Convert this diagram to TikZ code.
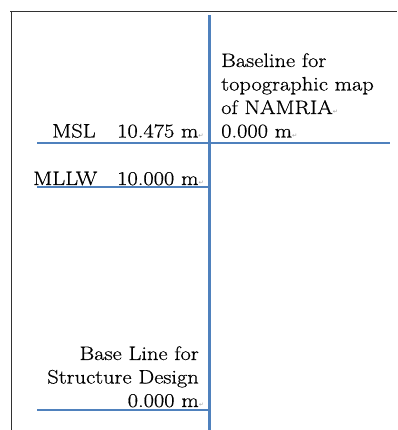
\documentclass[tikz,border=0pt]{standalone}
\usepackage{fontspec}
\newfontfamily\symfont{DejaVu Sans}
\newfontfamily\lblfont{Latin Modern Roman}[FakeBold=0.6]
\definecolor{wordblue}{RGB}{79,129,189}
\definecolor{framegray}{RGB}{50,50,50}
\definecolor{markgray}{RGB}{150,150,150}
\newcommand{\pmark}{{\symfont\fontsize{5.5}{6}\selectfont\textcolor{markgray}{↵}}}
\tikzset{
  lbl/.style={font=\lblfont\fontsize{19.5}{23}\selectfont, inner sep=0pt, xscale=1.15, transform shape, text=black},
  lblw/.style={lbl, anchor=base west},
  lble/.style={lbl, anchor=base east},
  bluev/.style={draw=wordblue, line width=3pt},
  blueh/.style={draw=wordblue, line width=1.6pt},
  frameline/.style={draw=framegray, line width=0.9pt}
}
\begin{document}
\begin{tikzpicture}[x=1pt,y=1pt]
\useasboundingbox (0,0) rectangle (397,430);
% frame
\coordinate (ftl) at (11,419);
\coordinate (ftr) at (397,419);
\coordinate (fbl) at (11,0);
\draw[frameline] (10,419) -- (ftr);
\draw[frameline] (ftl) -- (fbl);
% blue lines
\coordinate (vtop) at (209,415);
\coordinate (vbot) at (209,0);
\draw[bluev] (vtop) -- (vbot);
\coordinate (mslL) at (37,286.7);
\coordinate (mslR) at (390,286.7);
\draw[blueh] (mslL) -- (mslR);
\coordinate (mllwL) at (37,242.7);
\coordinate (mllwR) at (209,242.7);
\draw[blueh] (mllwL) -- (mllwR);
\coordinate (baseL) at (37,19.7);
\coordinate (baseR) at (209,19.7);
\draw[blueh] (baseL) -- (baseR);
% right block
\node[lblw] (t1) at (221,363) {Baseline for};
\node[lblw] (t2) at (221,339.5) {topographic map};
\node[lblw] (t3) at (221,316) {of NAMRIA\pmark};
\node[lblw] (t4) at (221,292.5) {0.000 m\pmark};
% MSL
\node[lblw] (msl) at (52,292.5) {MSL};
\node[lblw] (mslv) at (117,292.5) {10.475 m\pmark};
% MLLW
\node[lblw] (mllw) at (33,245) {MLLW};
\node[lblw] (mllwv) at (117,245) {10.000\hspace{6pt}m\pmark};
% base line
\node[lble] (b1) at (199,70) {Base Line for};
\node[lble] (b2) at (199,46.5) {Structure Design};
\node[lble] (b3) at (199,23) {0.000\hspace{6pt}m};
\node[anchor=base west, inner sep=0pt] (b3m) at (b3.base east) {\pmark};
\end{tikzpicture}
\end{document}
